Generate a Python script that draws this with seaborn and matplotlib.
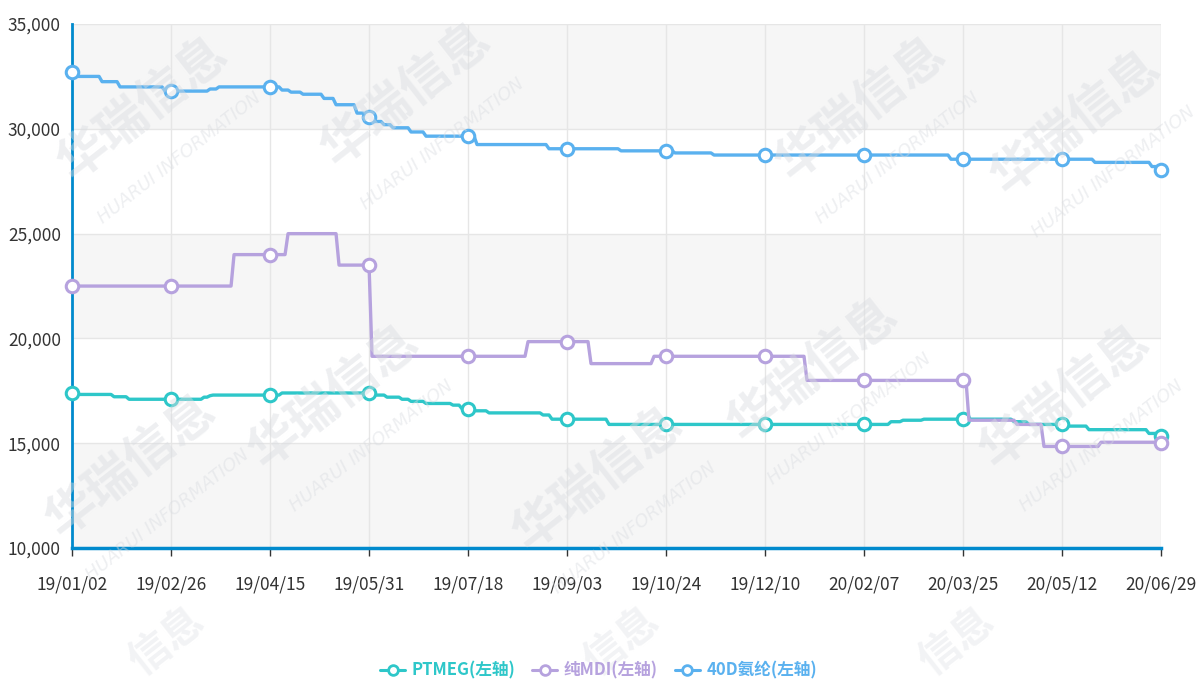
import numpy as np
import pandas as pd
import matplotlib
matplotlib.use("Agg")
import matplotlib.pyplot as plt
from matplotlib.lines import Line2D
from matplotlib.ticker import FuncFormatter
import seaborn as sns

# ── Data (trading-day index, price) ─────────────────────────────
TICK_LABELS = ["19/01/02", "19/02/26", "19/04/15", "19/05/31", "19/07/18", "19/09/03",
               "19/10/24", "19/12/10", "20/02/07", "20/03/25", "20/05/12", "20/06/29"]
DAYS_PER_TICK = 33
N_DAYS = DAYS_PER_TICK * (len(TICK_LABELS) - 1) + 1

ptmeg_days = [0, 2, 14, 19, 44, 46, 47, 70, 101, 105, 110, 113, 118, 127, 130, 134, 139,
              157, 160, 179, 273, 277, 284, 314, 319, 331, 339, 359, 363]
ptmeg_vals = [17400, 17330, 17220, 17100, 17200, 17270, 17300, 17400, 17300, 17200, 17100,
              17000, 16900, 16820, 16650, 16550, 16450, 16350, 16150, 15900, 16030, 16100,
              16150, 16030, 15900, 15820, 15650, 15470, 15330]

mdi_days = [0, 54, 72, 89, 100, 152, 173, 194, 245, 299, 315, 324, 343, 363]
mdi_vals = [22500, 24000, 25000, 23500, 19150, 19850, 18800, 19150, 18000, 16100, 15900,
            14850, 15050, 15000]

spandex_days = [0, 2, 10, 16, 31, 46, 49, 70, 73, 77, 84, 88, 95, 98, 101, 104, 107, 113,
                118, 135, 159, 183, 201, 214, 293, 341, 360, 363]
spandex_vals = [32700, 32500, 32250, 32000, 31800, 31900, 32000, 31850, 31750, 31650, 31450,
                31150, 30750, 30550, 30350, 30200, 30050, 29850, 29650, 29250, 29050, 28950,
                28850, 28750, 28550, 28400, 28200, 28050]

SERIES = [
    ("PTMEG(左轴)", ptmeg_days, ptmeg_vals, "#2ec7c9"),
    ("纯MDI(左轴)", mdi_days, mdi_vals, "#b6a2de"),
    ("40D氨纶(左轴)", spandex_days, spandex_vals, "#5ab1ef"),
]

Y_MIN, Y_MAX, Y_STEP = 10000, 35000, 5000

sns.set_style("white")
plt.rcParams["font.family"] = ["Noto Sans CJK SC", "DejaVu Sans"]

fig = plt.figure(figsize=(11.97, 6.86), dpi=100)
ax = fig.add_axes([0.0602, 0.201, 0.9097, 0.764])

# watermarks (kept inside the canvas)
for (wx, wy) in [(0.12, 0.84), (0.34, 0.86), (0.72, 0.84), (0.90, 0.82),
                 (0.28, 0.42), (0.68, 0.46), (0.89, 0.42), (0.11, 0.32), (0.50, 0.30)]:
    fig.text(wx, wy, "华瑞信息", fontsize=36, fontweight="bold", color="#d9dce1",
             rotation=38, ha="center", va="center", alpha=0.45, zorder=0)
    fig.text(wx + 0.03, wy - 0.07, "HUARUI INFORMATION", fontsize=13, color="#d9dce1",
             rotation=38, ha="center", va="center", alpha=0.45, zorder=0, style="italic",
             family=["DejaVu Sans"])
for wx in [0.14, 0.52, 0.80]:
    fig.text(wx, 0.065, "信息", fontsize=30, fontweight="bold", color="#e3e5e9",
             rotation=38, ha="center", va="center", alpha=0.45, zorder=0)

ax.patch.set_alpha(0)
yticks = np.arange(Y_MIN, Y_MAX + 1, Y_STEP)
for i, lo in enumerate(yticks[:-1]):
    if i % 2 == 0:
        ax.axhspan(lo, lo + Y_STEP, color="#f4f4f4", alpha=0.75, zorder=0, lw=0)

tick_pos = np.arange(len(TICK_LABELS)) * DAYS_PER_TICK
handles = []
for label, days, vals, color in SERIES:
    s = pd.Series(vals, index=days).reindex(range(N_DAYS)).ffill()
    df = pd.DataFrame({"day": s.index, "price": s.values})
    sns.lineplot(data=df, x="day", y="price", ax=ax, color=color, lw=2.4,
                 marker="o", markevery=list(tick_pos), markersize=9,
                 markerfacecolor="white", markeredgecolor=color, markeredgewidth=2.2,
                 zorder=3, clip_on=False)
    handles.append(Line2D([0], [0], color=color, lw=2.2, marker="o", markersize=7,
                          markerfacecolor="white", markeredgecolor=color,
                          markeredgewidth=2, label=label))

ax.set_xlim(0, N_DAYS - 1)
ax.set_ylim(Y_MIN, Y_MAX)
ax.set_xticks(tick_pos)
ax.set_xticklabels(TICK_LABELS)
ax.set_yticks(yticks)
ax.yaxis.set_major_formatter(FuncFormatter(lambda v, p: f"{int(v):,}"))
ax.grid(True, color="#e6e6e6", lw=1, zorder=1)
ax.set_xlabel("")
ax.set_ylabel("")

for side in ["top", "right"]:
    ax.spines[side].set_visible(False)
ax.spines["left"].set_color("#008acd")
ax.spines["left"].set_linewidth(2)
ax.spines["bottom"].set_color("#008acd")
ax.spines["bottom"].set_linewidth(2.5)

ax.tick_params(axis="x", length=6, width=1, color="#333333", labelsize=12.5,
               labelcolor="#333333", pad=14, direction="out", bottom=True)
ax.tick_params(axis="y", length=0, labelsize=12.5, labelcolor="#333333", pad=8, left=False)

leg = fig.legend(handles=handles, loc="center", bbox_to_anchor=(0.5, 0.022), ncol=3,
                 frameon=False, handlelength=1.5, handletextpad=0.4, columnspacing=1.0,
                 labelcolor="linecolor", prop={"size": 12, "weight": "bold"})

fig.savefig("out.png", dpi=100)
